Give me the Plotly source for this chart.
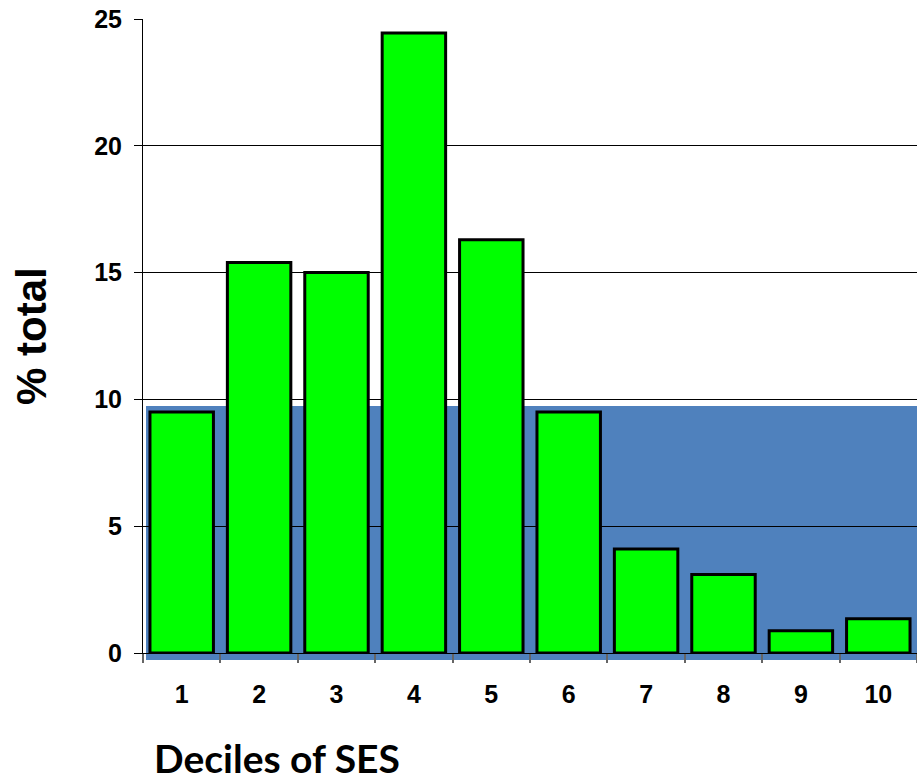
import plotly.graph_objects as go

# Data
deciles = ["1", "2", "3", "4", "5", "6", "7", "8", "9", "10"]
pct_total = [9.5, 15.4, 15.0, 24.45, 16.3, 9.5, 4.1, 3.1, 0.88, 1.35]
band_level = 9.74          # level of the blue reference band
y_ticks = [0, 5, 10, 15, 20, 25]
Y_MAX = 25

fig = go.Figure()
fig.add_trace(go.Bar(
    x=deciles,
    y=pct_total,
    marker=dict(color="#00FF00", line=dict(color="black", width=3)),
    hoverinfo="x+y",
))

# blue reference band (paper coords derived from the band level)
fig.add_shape(
    type="rect", xref="paper", yref="paper",
    x0=0.0039, x1=1.0, y0=-0.011, y1=band_level / Y_MAX,
    fillcolor="#4F81BD", line=dict(width=0), layer="below",
)

tickfont = dict(family="Liberation Sans, Arial, sans-serif", size=25, color="black", weight="bold")

fig.update_layout(
    width=917, height=784,
    margin=dict(l=143, r=0, t=19, b=131),
    paper_bgcolor="white",
    plot_bgcolor="rgba(0,0,0,0)",
    bargap=0.18,
    showlegend=False,
    xaxis=dict(
        type="category",
        range=[-0.5, 9.5],
        tickson="boundaries",
        ticks="outside", ticklen=9, tickcolor="#666666", tickwidth=2,
        showline=True, linecolor="black", linewidth=1,
        showgrid=False, zeroline=False,
        tickfont=tickfont,
        ticklabelstandoff=19,
    ),
    yaxis=dict(
        range=[0, Y_MAX],
        tickvals=y_ticks,
        ticks="outside", ticklen=8, tickcolor="black", tickwidth=1,
        showline=True, linecolor="black", linewidth=1,
        showgrid=True, gridcolor="black", gridwidth=1,
        zeroline=False,
        tickfont=tickfont,
        ticklabelstandoff=7,
        ticklabeloverflow="allow",
    ),
    annotations=[
        dict(text="% total", xref="paper", yref="paper", x=-0.1447, y=0.5,
             xanchor="center", yanchor="middle", textangle=-90, showarrow=False,
             font=dict(family="Liberation Sans, Arial, sans-serif", size=42, color="black", weight="bold")),
        dict(text="Deciles of SES", xref="paper", yref="paper", x=0.012, y=-0.205,
             xanchor="left", yanchor="bottom", showarrow=False,
             font=dict(family="Lato, sans-serif", size=39, color="black", weight="bold")),
    ],
)

# remove the default 8px page margin so the figure fills the window exactly
fig.write_html(
    "out.html",
    config={"displayModeBar": False},
    post_script="document.body.style.margin='0';document.body.style.overflow='hidden';",
)
